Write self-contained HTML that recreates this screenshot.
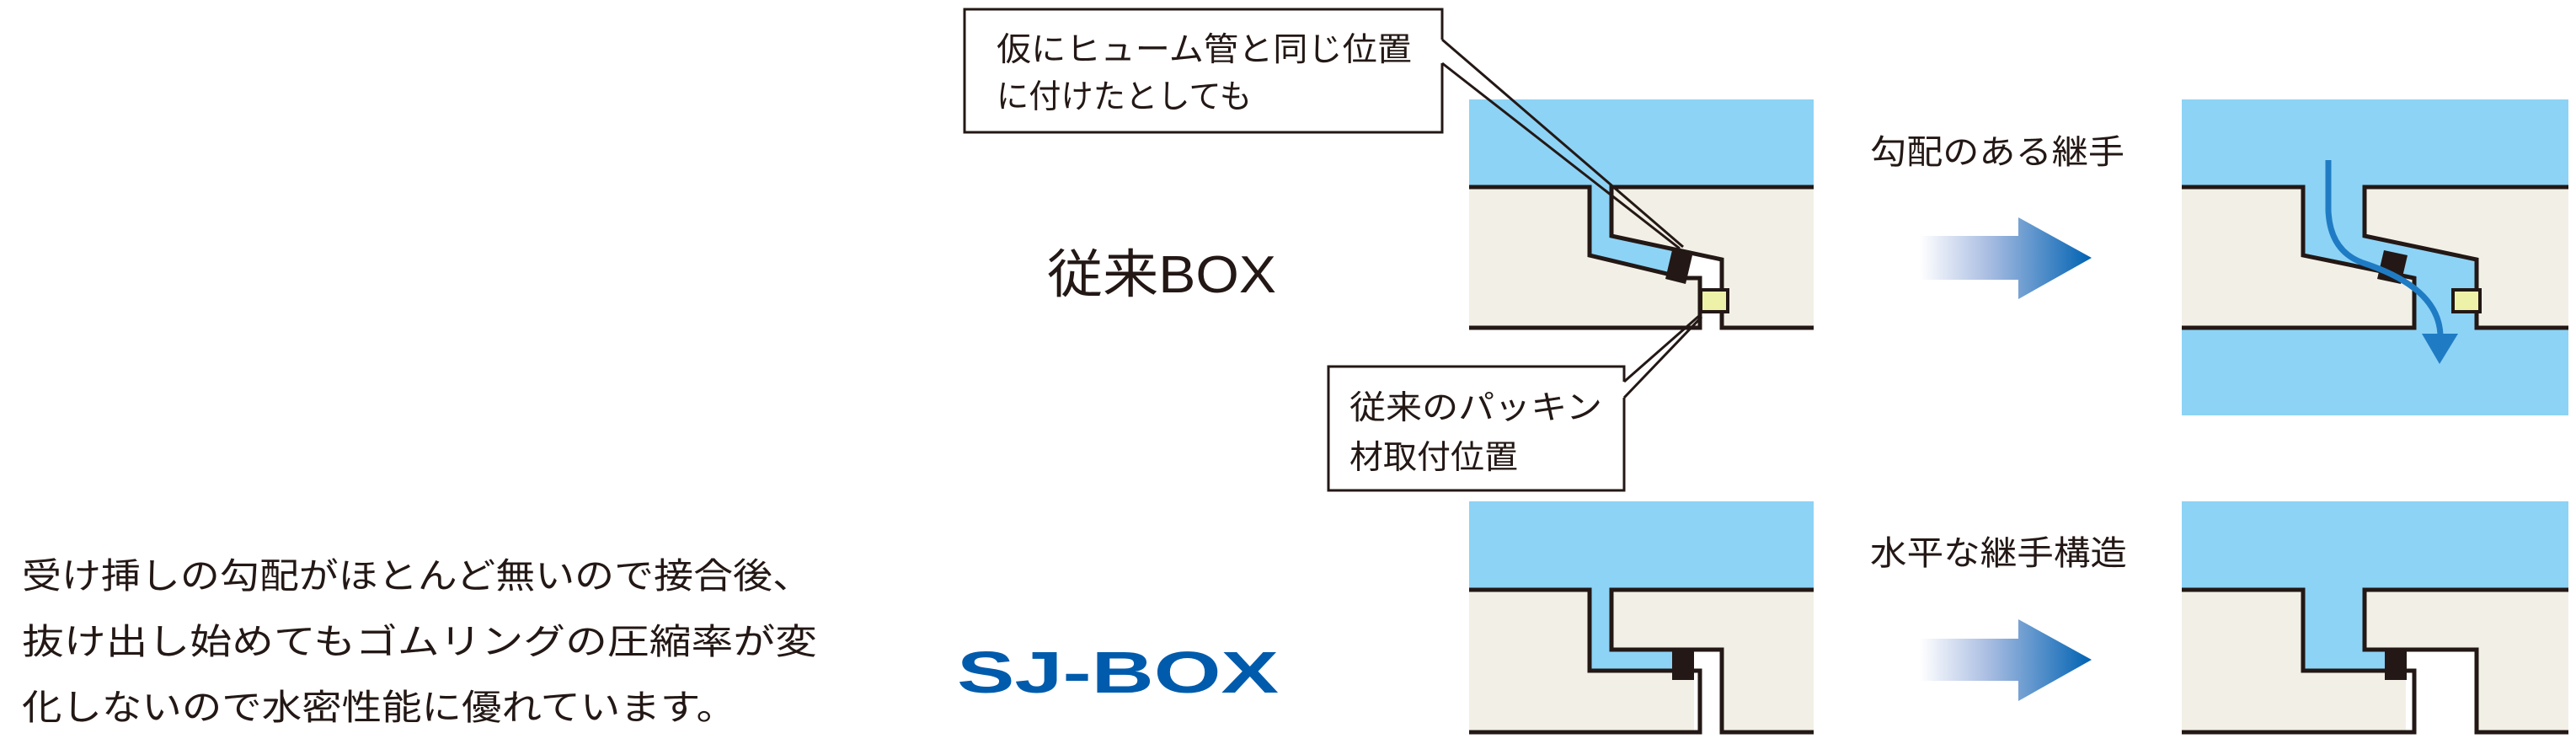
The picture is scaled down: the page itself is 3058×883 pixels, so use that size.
<!DOCTYPE html>
<html><head><meta charset="utf-8"><style>
html,body{margin:0;padding:0;background:#fff;}
svg{display:block;}
text{font-family:"Liberation Sans","Noto Sans CJK JP",sans-serif;fill:#231815;}
</style></head><body>
<svg width="3058" height="883" viewBox="0 0 3058 883" xmlns="http://www.w3.org/2000/svg">
<defs>
<linearGradient id="ag" x1="0" x2="1" y1="0" y2="0">
<stop offset="0" stop-color="#ffffff"/>
<stop offset="0.4" stop-color="#a9bde2"/>
<stop offset="1" stop-color="#0062b2"/>
</linearGradient>
</defs>

<!-- TOP LEFT PANEL -->
<rect x="1744" y="118" width="409" height="104" fill="#8dd3f5"/>
<rect x="1744" y="222" width="409" height="167" fill="#f2f0e6"/>
<polygon points="1887,222 1913,222 1913,280 1995,300 2000,330 1887,303" fill="#8dd3f5"/>
<polygon points="1995,300 2044,308 2044,389 2018,389 2018,330 2000,330" fill="#fff"/>
<polyline points="1744,222 1887,222 1887,303 2000,330 2018,330 2018,389 1744,389" fill="none" stroke="#231815" stroke-width="5"/>
<polyline points="2153,222 1913,222 1913,280 2044,308 2044,389 2153,389" fill="none" stroke="#231815" stroke-width="5"/>
<polygon points="1985,297 2009,303 2001,337 1977,331" fill="#231815"/>
<rect x="2019" y="344" width="32" height="26" fill="#eef2a8" stroke="#231815" stroke-width="4"/>

<!-- TOP RIGHT PANEL -->
<rect x="2590" y="118" width="459" height="375" fill="#8dd3f5"/>
<polygon points="2590,222 2734,222 2734,303 2866,330 2866,389 2590,389" fill="#f2f0e6"/>
<polygon points="3049,222 2807,222 2807,280 2940,308 2940,389 3049,389" fill="#f2f0e6"/>
<polyline points="2590,222 2734,222 2734,303 2866,330 2866,389 2590,389" fill="none" stroke="#231815" stroke-width="5"/>
<polyline points="3049,222 2807,222 2807,280 2940,308 2940,389 3049,389" fill="none" stroke="#231815" stroke-width="5"/>
<polygon points="2830,297 2858,303 2850,337 2822,331" fill="#231815"/>
<rect x="2912" y="344" width="32" height="26" fill="#eef2a8" stroke="#231815" stroke-width="4"/>
<path d="M2764,190 L2764,250 Q2766,298 2805,312 Q2897,342 2897,400" fill="none" stroke="#1f7cc4" stroke-width="7"/>
<polygon points="2875,396 2918,396 2896,432" fill="#1f7cc4"/>

<!-- BOTTOM LEFT PANEL -->
<rect x="1744" y="595" width="409" height="105" fill="#8dd3f5"/>
<rect x="1744" y="700" width="409" height="169" fill="#f2f0e6"/>
<polygon points="1887,700 1913,700 1913,771 1995,771 1995,796 1887,796" fill="#8dd3f5"/>
<rect x="2011" y="771" width="33" height="98" fill="#fff"/>
<polyline points="1744,700 1887,700 1887,796 2018,796 2018,869 1744,869" fill="none" stroke="#231815" stroke-width="5"/>
<polyline points="2153,700 1913,700 1913,771 2044,771 2044,869 2153,869" fill="none" stroke="#231815" stroke-width="5"/>
<rect x="1985" y="773" width="26" height="34" fill="#231815"/>

<!-- BOTTOM RIGHT PANEL -->
<rect x="2590" y="595" width="459" height="105" fill="#8dd3f5"/>
<rect x="2590" y="700" width="459" height="169" fill="#f2f0e6"/>
<polygon points="2734,700 2807,700 2807,771 2845,771 2845,796 2734,796" fill="#8dd3f5"/>
<rect x="2856" y="771" width="84" height="98" fill="#fff"/>
<polyline points="2590,700 2734,700 2734,796 2866,796 2866,869 2590,869" fill="none" stroke="#231815" stroke-width="5"/>
<polyline points="3049,700 2807,700 2807,771 2940,771 2940,869 3049,869" fill="none" stroke="#231815" stroke-width="5"/>
<rect x="2831" y="773" width="26" height="34" fill="#231815"/>

<!-- ARROWS -->
<polygon points="2279,280 2396,280 2396,258 2483,306 2396,355 2396,332 2279,332" fill="url(#ag)"/>
<polygon points="2279,758 2396,758 2396,735 2483,783 2396,832 2396,808 2279,808" fill="url(#ag)"/>

<!-- LABELS -->
<text x="2220" y="194" font-size="40" textLength="302" lengthAdjust="spacingAndGlyphs">勾配のある継手</text>
<text x="2220" y="670" font-size="40" textLength="305" lengthAdjust="spacingAndGlyphs">水平な継手構造</text>
<text x="1243" y="347" font-size="62" textLength="272" lengthAdjust="spacingAndGlyphs">従来BOX</text>

<!-- TOP CALLOUT -->
<path d="M1712,47 L1712,11 L1145,11 L1145,157 L1712,157 L1712,75" fill="#fff" stroke="#231815" stroke-width="3"/>
<line x1="1712" y1="47" x2="1998" y2="293" stroke="#231815" stroke-width="3"/>
<line x1="1712" y1="75" x2="1994" y2="295" stroke="#231815" stroke-width="3"/>
<text x="1183" y="72" font-size="39" textLength="493" lengthAdjust="spacingAndGlyphs">仮にヒューム管と同じ位置</text>
<text x="1183" y="128" font-size="39" textLength="303" lengthAdjust="spacingAndGlyphs">に付けたとしても</text>

<!-- BOTTOM CALLOUT -->
<path d="M1928,453 L1928,435 L1577,435 L1577,582 L1928,582 L1928,472" fill="#fff" stroke="#231815" stroke-width="3"/>
<line x1="1928" y1="453" x2="2018" y2="374" stroke="#231815" stroke-width="3"/>
<line x1="1928" y1="472" x2="2020" y2="376" stroke="#231815" stroke-width="3"/>
<text x="1602" y="497" font-size="39" textLength="300" lengthAdjust="spacingAndGlyphs">従来のパッキン</text>
<text x="1602" y="556" font-size="39" textLength="200" lengthAdjust="spacingAndGlyphs">材取付位置</text>

<!-- PARAGRAPH -->
<text x="26" y="698" font-size="42" textLength="938" lengthAdjust="spacingAndGlyphs">受け挿しの勾配がほとんど無いので接合後、</text>
<text x="26" y="776" font-size="42" textLength="944" lengthAdjust="spacingAndGlyphs">抜け出し始めてもゴムリングの圧縮率が変</text>
<text x="26" y="854" font-size="42" textLength="848" lengthAdjust="spacingAndGlyphs">化しないので水密性能に優れています。</text>

<!-- LOGO -->
<text x="1136" y="822" font-size="70" font-weight="bold" style="fill:#005bac" textLength="382" lengthAdjust="spacingAndGlyphs">SJ-BOX</text>
</svg>
</body></html>
